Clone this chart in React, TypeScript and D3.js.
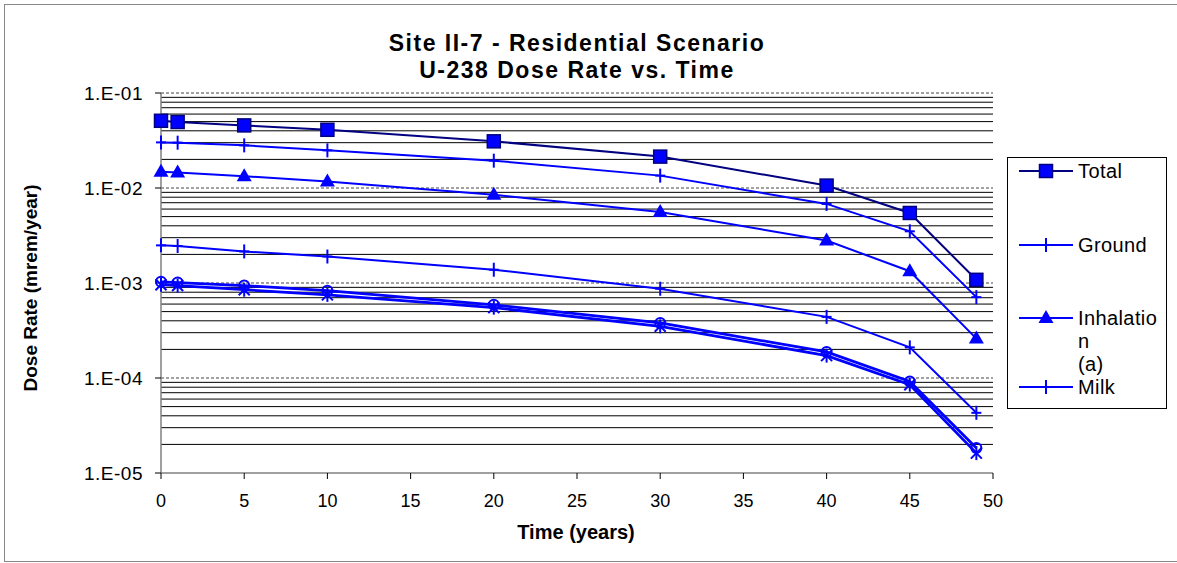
import React from "react";
import * as d3 from "d3";

const time = [0, 1, 5, 10, 20, 30, 40, 45, 49];
const total = [0.051, 0.0495, 0.0456, 0.041, 0.031, 0.0214, 0.0106, 0.00546, 0.00108];
const ground = [0.0302, 0.030, 0.0281, 0.0249, 0.0194, 0.0135, 0.0068, 0.0035, 0.00071];
const inhalation = [0.0148, 0.0146, 0.0133, 0.0117, 0.0085, 0.0056, 0.0028, 0.00133, 0.00026];
const milk = [0.00249, 0.00245, 0.00215, 0.0019, 0.00138, 0.00087, 0.00044, 0.00021, 0.000043];
const plant = [0.00103, 0.00101, 0.00094, 0.00083, 0.00059, 0.00038, 0.000188, 0.000092, 0.0000183];
const meat = [0.00096, 0.00094, 0.00085, 0.00075, 0.00055, 0.00035, 0.000172, 0.000085, 0.0000162];

const xTicks = [0, 5, 10, 15, 20, 25, 30, 35, 40, 45, 50];
const yDecades = [1e-5, 1e-4, 1e-3, 1e-2, 1e-1];
const yLabels = ["1.E-05", "1.E-04", "1.E-03", "1.E-02", "1.E-01"];
const legendNames = ["Total", "Ground", "Inhalatio\nn\n(a)", "Milk"];

const FONT = "'Liberation Sans', Arial, Helvetica, sans-serif";
const BLUE = "#0000ff";
const NAVY = "#000080";

type Marker = "square" | "plus" | "triangle" | "circle" | "star";

function MarkerShape({ type, x, y }: { type: Marker; x: number; y: number }) {
  switch (type) {
    case "square":
      return <rect x={x - 6.5} y={y - 6.5} width={13} height={13} fill={BLUE} stroke={NAVY} strokeWidth={1.5} />;
    case "triangle":
      return <path d={`M${x},${y - 8}L${x + 7.5},${y + 5}L${x - 7.5},${y + 5}Z`} fill={BLUE} />;
    case "plus":
      return (
        <g stroke={BLUE} strokeWidth={2}>
          <line x1={x} x2={x} y1={y - 7} y2={y + 7} />
          <line x1={x - 5} x2={x + 5} y1={y} y2={y} />
        </g>
      );
    case "circle":
      return <circle cx={x} cy={y} r={5} fill="none" stroke={BLUE} strokeWidth={2} />;
    case "star":
      return (
        <g stroke={BLUE} strokeWidth={2}>
          <line x1={x} x2={x} y1={y - 7} y2={y + 7} />
          <line x1={x - 5.5} x2={x + 5.5} y1={y - 5.5} y2={y + 5.5} />
          <line x1={x - 5.5} x2={x + 5.5} y1={y + 5.5} y2={y - 5.5} />
        </g>
      );
  }
}

export default function App() {
  const x = d3.scaleLinear().domain([0, 50]).range([161, 993]);
  const y = d3.scaleLog().domain([1e-5, 1e-1]).range([473, 93]);

  const minor: number[] = [];
  for (let e = -5; e < -1; e++) {
    for (let m = 2; m <= 9; m++) minor.push(m * Math.pow(10, e));
  }

  const series: { name: string; values: number[]; marker: Marker; color: string; width: number }[] = [
    { name: "meat", values: meat, marker: "star", color: BLUE, width: 2.75 },
    { name: "plant", values: plant, marker: "circle", color: BLUE, width: 2.75 },
    { name: "milk", values: milk, marker: "plus", color: BLUE, width: 2 },
    { name: "inhalation", values: inhalation, marker: "triangle", color: BLUE, width: 2 },
    { name: "ground", values: ground, marker: "plus", color: BLUE, width: 2 },
    { name: "total", values: total, marker: "square", color: NAVY, width: 2 },
  ];

  const line = d3
    .line<number>()
    .x((_, i) => x(time[i]))
    .y((d) => y(d));

  const legendItems: { label: string; marker: Marker; color: string; cy: number }[] = [
    { label: legendNames[0], marker: "square", color: NAVY, cy: 171 },
    { label: legendNames[1], marker: "plus", color: BLUE, cy: 245 },
    { label: legendNames[2], marker: "triangle", color: BLUE, cy: 318 },
    { label: legendNames[3], marker: "plus", color: BLUE, cy: 387 },
  ];

  return (
    <svg
      width={1177}
      height={563}
      style={{ position: "absolute", left: 0, top: 0, background: "#fff" }}
      fontFamily={FONT}
    >
      <rect x={4.5} y={4.5} width={1180} height={557} fill="#fff" stroke="#888" strokeWidth={1} />

      {/* title */}
      <text x={577} y={51} textAnchor="middle" fontSize={23} fontWeight="bold" letterSpacing={1.5}>
        Site II-7 - Residential Scenario
      </text>
      <text x={577} y={78} textAnchor="middle" fontSize={23} fontWeight="bold" letterSpacing={1.5}>
        U-238 Dose Rate vs. Time
      </text>

      {/* minor gridlines */}
      {minor.map((v, i) => (
        <line key={"mg" + i} x1={161} x2={993} y1={y(v)} y2={y(v)} stroke="#000" strokeWidth={1} />
      ))}
      {/* major gridlines */}
      {yDecades.slice(1).map((v, i) => (
        <line key={"Mg" + i} x1={161} x2={993} y1={y(v)} y2={y(v)} stroke="#444" strokeWidth={1} strokeDasharray="3,2" />
      ))}

      {/* axes */}
      <line x1={161} x2={161} y1={93} y2={473} stroke="#808080" strokeWidth={1.5} />
      <line x1={161} x2={993} y1={473} y2={473} stroke="#808080" strokeWidth={1.5} />
      {yDecades.map((v, i) => (
        <g key={"yt" + i}>
          <line x1={155} x2={161} y1={y(v)} y2={y(v)} stroke="#000" strokeWidth={1} />
          <text x={143} y={y(v) + 7} textAnchor="end" fontSize={19} letterSpacing={0.5}>
            {yLabels[i]}
          </text>
        </g>
      ))}
      {xTicks.map((t) => (
        <g key={"xt" + t}>
          <line x1={x(t)} x2={x(t)} y1={473} y2={479} stroke="#000" strokeWidth={1} />
          <text x={x(t)} y={507} textAnchor="middle" fontSize={18}>
            {t}
          </text>
        </g>
      ))}

      <text x={576} y={539} textAnchor="middle" fontSize={20} fontWeight="bold">
        Time (years)
      </text>
      <text
        transform={`translate(37,288) rotate(-90)`}
        textAnchor="middle"
        fontSize={19}
        fontWeight="bold"
      >
        Dose Rate (mrem/year)
      </text>

      {/* series */}
      {series.map((s) => (
        <g key={s.name}>
          <path d={line(s.values) || ""} fill="none" stroke={s.color} strokeWidth={s.width} />
          {s.values.map((v, i) => (
            <MarkerShape key={i} type={s.marker} x={x(time[i])} y={y(v)} />
          ))}
        </g>
      ))}

      {/* legend */}
      <rect x={1007.5} y={157.5} width={159} height={251} fill="#fff" stroke="#000" strokeWidth={1} />
      {legendItems.map((it, i) => (
        <g key={"lg" + i}>
          <line x1={1019} x2={1073} y1={it.cy} y2={it.cy} stroke={it.color} strokeWidth={2} />
          <MarkerShape type={it.marker} x={1046} y={it.cy} />
          {it.label.split("\n").map((ln, j) => (
            <text key={j} x={1078} y={it.cy + 7 + j * 23} fontSize={20} letterSpacing={0.4}>
              {ln}
            </text>
          ))}
        </g>
      ))}
    </svg>
  );
}
